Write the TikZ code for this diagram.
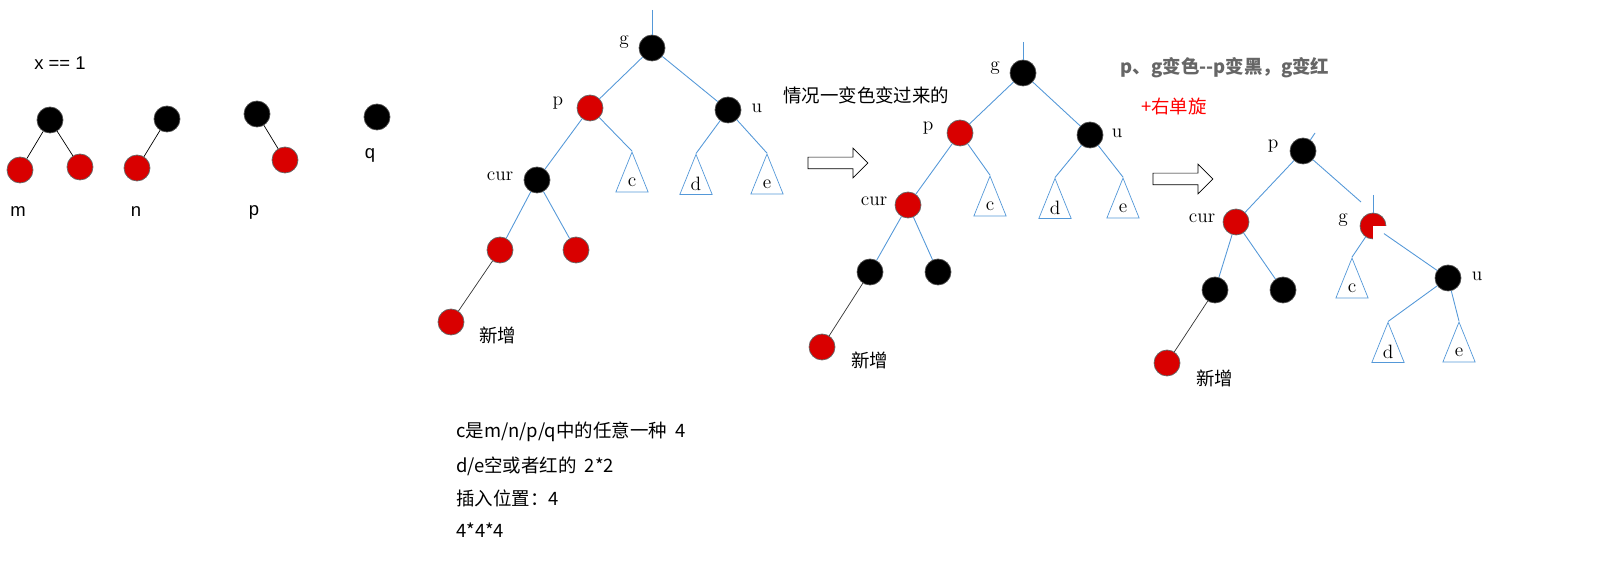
\documentclass[tikz,border=0pt]{standalone}
\usepackage{fontspec}
\setsansfont{Liberation Sans}
\newfontfamily\cjk{Noto Sans CJK SC}
\usetikzlibrary{shapes.geometric,shapes.arrows}
\begin{document}
\begin{tikzpicture}[x=0.02cm,y=-0.02cm,
  bn/.style={circle,fill=black,draw=black!70,minimum size=0.52cm,inner sep=0pt},
  rn/.style={circle,fill=red!85!black,draw=black!60,minimum size=0.52cm,inner sep=0pt},
  ed/.style={cyan!60!blue!70,line width=0.5pt},
  lb/.style={font=\fontsize{11}{12}\selectfont},
  sl/.style={font=\sffamily\fontsize{10.5}{12}\selectfont},
  ck/.style={font=\cjk\fontsize{10.5}{12}\selectfont,anchor=west},
  tri/.style={draw=cyan!60!blue!70,isosceles triangle,shape border rotate=90,isosceles triangle apex angle=44,minimum height=0.8cm,inner sep=0pt,font=\fontsize{11}{12}\selectfont},
  harr/.style={draw,single arrow,minimum height=1.2cm,inner sep=0.11cm,single arrow head extend=0.18cm,single arrow head indent=0pt}]
\useasboundingbox (0,0) rectangle (1597,567);
% left
\node[sl] (x1) at (60,63) {x == 1};
\node[bn] (a) at (50,120) {}; \node[rn] (a1) at (20,170) {}; \node[rn] (a2) at (80,167) {};
\draw (a)--(a1) (a)--(a2);
\node[bn] (b) at (167,119) {}; \node[rn] (b1) at (137,168) {}; \draw (b)--(b1);
\node[bn] (c) at (257,114) {}; \node[rn] (c1) at (285,160) {}; \draw (c)--(c1);
\node[bn] (d) at (377,117) {};
\node[sl] (lm) at (18,212) {m}; \node[sl] (ln) at (136,212) {n};
\node[sl] (lp) at (254,212) {p}; \node[sl] (lq) at (370,155) {q};
% tree 1
\node[bn] (g1) at (652,48) {}; \coordinate (g1t) at (652,10); \draw[ed] (g1t)--(g1);
\node[rn] (p1) at (590,108) {}; \node[bn] (u1) at (728,110) {};
\node[bn] (cu1) at (537,180) {};
\node[tri] (c1t) at (632,182) {c}; \node[tri] (d1t) at (696,184) {d}; \node[tri] (e1t) at (767,184) {e};
\node[rn] (k1) at (500,250) {}; \node[rn] (k2) at (576,250) {};
\node[rn] (n1) at (451,322) {};
\draw[ed] (g1)--(p1) (g1)--(u1) (p1)--(cu1) (p1)--(c1t.apex) (u1)--(d1t.apex) (u1)--(e1t.apex) (cu1)--(k1) (cu1)--(k2);
\draw[black!80,thin] (k1)--(n1);
\node[lb] at (624,42) {g}; \node[lb] at (558,103) {p}; \node[lb] at (757,108) {u}; \node[lb] at (500,176) {cur};
\node[ck] (t1) at (473,335) {新增};
% arrow 1
\node[harr] (ar1) at (835,163) {};
\node[ck] (s1) at (777,95) {情况一变色变过来的};
% tree 2
\node[bn] (g2) at (1023,73) {}; \coordinate (g2t) at (1023,42); \draw[ed] (g2t)--(g2);
\node[rn] (p2) at (960,133) {}; \node[bn] (u2) at (1090,135) {};
\node[rn] (cu2) at (908,205) {};
\node[tri] (c2t) at (990,206) {c}; \node[tri] (d2t) at (1055,208) {d}; \node[tri] (e2t) at (1123,208) {e};
\node[bn] (k3) at (870,272) {}; \node[bn] (k4) at (938,272) {};
\node[rn] (n2) at (822,347) {};
\draw[ed] (g2)--(p2) (g2)--(u2) (p2)--(cu2) (p2)--(c2t.apex) (u2)--(d2t.apex) (u2)--(e2t.apex) (cu2)--(k3) (cu2)--(k4);
\draw[black!80,thin] (k3)--(n2);
\node[lb] at (995,68) {g}; \node[lb] at (928,128) {p}; \node[lb] at (1117,133) {u}; \node[lb] at (874,201) {cur};
\node[ck] (t2) at (845,360) {新增};
\node[font=\cjk\bfseries\fontsize{10.5}{12}\selectfont,text=gray!80!black] (s2) at (1225,68) {p、g变色--p变黑，g变红};
\node[ck,text=red] (s3) at (1135,106) {+右单旋};
% arrow 2
\node[harr] (ar2) at (1180,179) {};
% tree 3
\node[bn] (p3) at (1303,151) {}; \coordinate (p3t) at (1315,133); \draw[ed] (p3t)--(p3);
\node[rn] (cu3) at (1236,222) {};
\node[rn] (g3) at (1373,226) {}; \fill[white] (1373,226) rectangle (1390,245);
\coordinate (g3t) at (1373,195); \draw[ed] (g3t)--(g3);
\node[bn] (u3) at (1448,278) {};
\node[tri] (c3t) at (1352,288) {c}; \node[tri] (d3t) at (1388,352) {d}; \node[tri] (e3t) at (1459,352) {e};
\node[bn] (k5) at (1215,290) {}; \node[bn] (k6) at (1283,290) {};
\node[rn] (n3) at (1167,363) {};
\coordinate (pg) at (1361,202);
\draw[ed] (p3)--(cu3) (p3)--(pg) (g3)--(c3t.apex) (g3)--(u3) (u3)--(d3t.apex) (u3)--(e3t.apex) (cu3)--(k5) (cu3)--(k6);
\draw[black!80,thin] (k5)--(n3);
\node[lb] at (1273,146) {p}; \node[lb] at (1202,218) {cur}; \node[lb] at (1343,220) {g}; \node[lb] at (1477,276) {u};
\node[ck] (t3) at (1190,378) {新增};
% bottom text
\node[ck] (b1t) at (450,432) {c是m/n/p/q中的任意一种\ \ 4};
\node[ck] (b2t) at (450,466) {d/e空或者红的\ \ 2*2};
\node[ck] (b3t) at (450,498) {插入位置：4};
\node[ck] (b4t) at (450,530) {4*4*4};
\end{tikzpicture}
\end{document}
